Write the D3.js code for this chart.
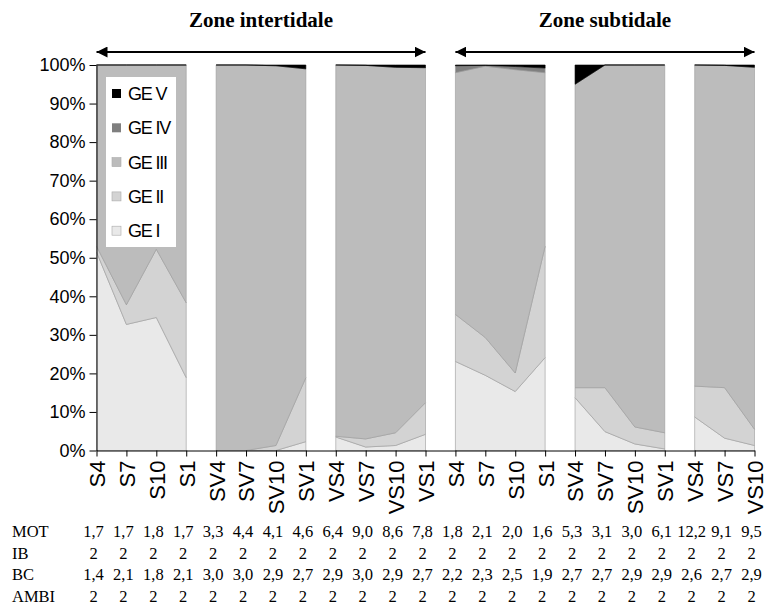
<!DOCTYPE html>
<html>
<head>
<meta charset="utf-8">
<script src="https://cdn.jsdelivr.net/npm/d3@7"></script>
<style>
  body { margin: 0; background: #fff; }
  svg { display: block; }
</style>
</head>
<body>
<div id="graph"></div>
<script>
// stations, left to right
var categories = ["S4","S7","S10","S1","SV4","SV7","SV10","SV1","VS4","VS7","VS10","VS1",
                  "S4","S7","S10","S1","SV4","SV7","SV10","SV1","VS4","VS7","VS10"];
var groupSizes = [4, 4, 4, 4, 4, 3];
var zones = [{name: "Zone intertidale", first: 0, last: 11},
             {name: "Zone subtidale", first: 12, last: 22}];

// percentage of each ecological group
var geI   = [51.5, 32.7, 34.5, 18.9,  0,    0,    0,   2.3,  3.5, 0.9, 1.3, 4.2,
             23.1, 19.5, 15.3, 24.1, 13.7,  4.9,  1.7, 0.4,  8.7, 3.2, 1.3];
var geII  = [ 1.5,  5.1, 17.7, 19.4,  0,    0,    1.3, 16.6, 0.2, 2.1, 3.3, 8.2,
             12.2,  9.8,  4.8, 28.9,  2.6, 11.4,  4.4, 4.2,  8.0, 13.1, 4.2];
var geIII = [47.0, 62.2, 47.8, 61.7, 100, 100,  98.5, 80.1, 96.3, 96.9, 94.8, 86.9,
             62.7, 70.4, 78.7, 45.0, 78.7, 83.7, 93.9, 95.4, 83.3, 83.6, 93.9];
var geIV  = [0, 0, 0, 0, 0, 0, 0, 0, 0, 0, 0, 0,
             1.8, 0.2, 0.8, 1.2, 0, 0, 0, 0, 0, 0, 0];
var geV   = [0, 0, 0, 0, 0, 0, 0.2, 1.0, 0, 0.1, 0.6, 0.7,
             0.2, 0.1, 0.4, 0.8, 5.0, 0, 0, 0, 0, 0.1, 0.6];

var seriesNames = ["GE I", "GE II", "GE III", "GE IV", "GE V"];
var seriesColors = ["#e9e9e9", "#d3d3d3", "#bcbcbc", "#7f7f7f", "#000000"];

// index table under the chart
var tableRows = ["MOT", "IB", "BC", "AMBI"];
var mot  = ["1,7","1,7","1,8","1,7","3,3","4,4","4,1","4,6","6,4","9,0","8,6","7,8",
            "1,8","2,1","2,0","1,6","5,3","3,1","3,0","6,1","12,2","9,1","9,5"];
var ib   = categories.map(() => "2");
var bc   = ["1,4","2,1","1,8","2,1","3,0","3,0","2,9","2,7","2,9","3,0","2,9","2,7",
            "2,2","2,3","2,5","1,9","2,7","2,7","2,9","2,9","2,6","2,7","2,9"];
var ambi = categories.map(() => "2");
var tableValues = [mot, ib, bc, ambi];

var width = 771, height = 610;

var svg = d3.select("#graph").append("svg")
    .attr("width", width)
    .attr("height", height);

// scales
var x = d3.scalePoint().domain(d3.range(categories.length)).range([96.5, 754.5]);
var y = d3.scaleLinear().domain([0, 100]).range([450.5, 65]);

// stacked data
var rows = categories.map((c, i) => ({
    i: i, "GE I": geI[i], "GE II": geII[i], "GE III": geIII[i], "GE IV": geIV[i], "GE V": geV[i]
}));
var stacked = d3.stack().keys(seriesNames)(rows);

var area = d3.area()
    .x(d => x(d.data.i))
    .y0(d => y(d[0]))
    .y1(d => y(d[1]));

// one block of areas per station group, white gaps between them
var start = 0;
groupSizes.forEach(n => {
    var g = svg.append("g");
    stacked.forEach((s, k) => {
        g.append("path")
            .datum(s.slice(start, start + n))
            .attr("fill", seriesColors[k])
            .attr("stroke", k == 4 ? "#000" : "#9a9a9a")
            .attr("stroke-width", 0.6)
            .attr("d", area);
    });
    start += n;
});

// Y axis
svg.append("g")
    .attr("transform", "translate(96.5,0)")
    .call(d3.axisLeft(y).tickValues(d3.range(0, 101, 10)).tickFormat(d => d + "%").tickSize(7).tickSizeOuter(0))
    .call(g => g.selectAll("text")
        .attr("font-family", "Liberation Sans, Arial, sans-serif")
        .attr("font-size", 18).attr("fill", "#000").attr("x", -11))
    .call(g => g.selectAll("line, path").attr("stroke", "#000"));

// X axis
svg.append("g")
    .attr("transform", "translate(0,450.5)")
    .call(d3.axisBottom(x).tickFormat(i => categories[i]).tickSize(6).tickSizeOuter(0))
    .call(g => g.selectAll("text")
        .attr("font-family", "Liberation Sans, Arial, sans-serif")
        .attr("font-size", 22).attr("fill", "#000")
        .attr("transform", "rotate(-90)")
        .attr("text-anchor", "end")
        .attr("x", -10).attr("y", 0).attr("dy", "0.36em"))
    .call(g => g.selectAll("line, path").attr("stroke", "#000"));

// zone titles and arrows
svg.append("defs").append("marker")
    .attr("id", "head")
    .attr("viewBox", "0 0 10 10")
    .attr("refX", 10).attr("refY", 5)
    .attr("markerWidth", 11).attr("markerHeight", 11)
    .attr("markerUnits", "userSpaceOnUse")
    .attr("orient", "auto-start-reverse")
    .append("path").attr("d", "M0,0L10,5L0,10Z").attr("fill", "#000");

zones.forEach(z => {
    var x0 = x(z.first), x1 = x(z.last);
    svg.append("line")
        .attr("x1", x0).attr("x2", x1)
        .attr("y1", 52).attr("y2", 52)
        .attr("stroke", "#000").attr("stroke-width", 2)
        .attr("marker-start", "url(#head)")
        .attr("marker-end", "url(#head)");
    svg.append("text")
        .attr("x", (x0 + x1) / 2).attr("y", 27)
        .attr("text-anchor", "middle")
        .attr("font-family", "Liberation Serif, Times New Roman, serif")
        .attr("font-weight", "bold")
        .attr("font-size", 21)
        .text(z.name);
});

// legend
var legend = svg.append("g");
legend.append("rect")
    .attr("x", 106).attr("y", 77)
    .attr("width", 70).attr("height", 170)
    .attr("fill", "#fff");
seriesNames.slice().reverse().forEach((name, j) => {
    var k = seriesNames.length - 1 - j;
    var cy = 93.5 + j * 34.3;
    legend.append("rect")
        .attr("x", 112).attr("y", cy - 4.5)
        .attr("width", 9).attr("height", 9)
        .attr("fill", seriesColors[k])
        .attr("stroke", k < 3 ? "#aaa" : "none")
        .attr("stroke-width", 0.6);
    legend.append("text")
        .attr("x", 128).attr("y", cy)
        .attr("dy", "0.36em")
        .attr("font-family", "Liberation Sans, Arial, sans-serif")
        .attr("font-size", 18)
        .attr("letter-spacing", -1.2)
        .text(name);
});

// table of indices
tableRows.forEach((r, j) => {
    var by = 537 + j * 21.7;
    svg.append("text")
        .attr("x", 12).attr("y", by)
        .attr("font-family", "Liberation Serif, Times New Roman, serif")
        .attr("font-size", 16.5)
        .text(r);
    svg.append("g").selectAll("text")
        .data(tableValues[j])
        .join("text")
        .attr("x", (d, i) => x(i) - 3)
        .attr("y", by)
        .attr("text-anchor", "middle")
        .attr("font-family", "Liberation Serif, Times New Roman, serif")
        .attr("font-size", 16.5)
        .text(d => d);
});
</script>
</body>
</html>
